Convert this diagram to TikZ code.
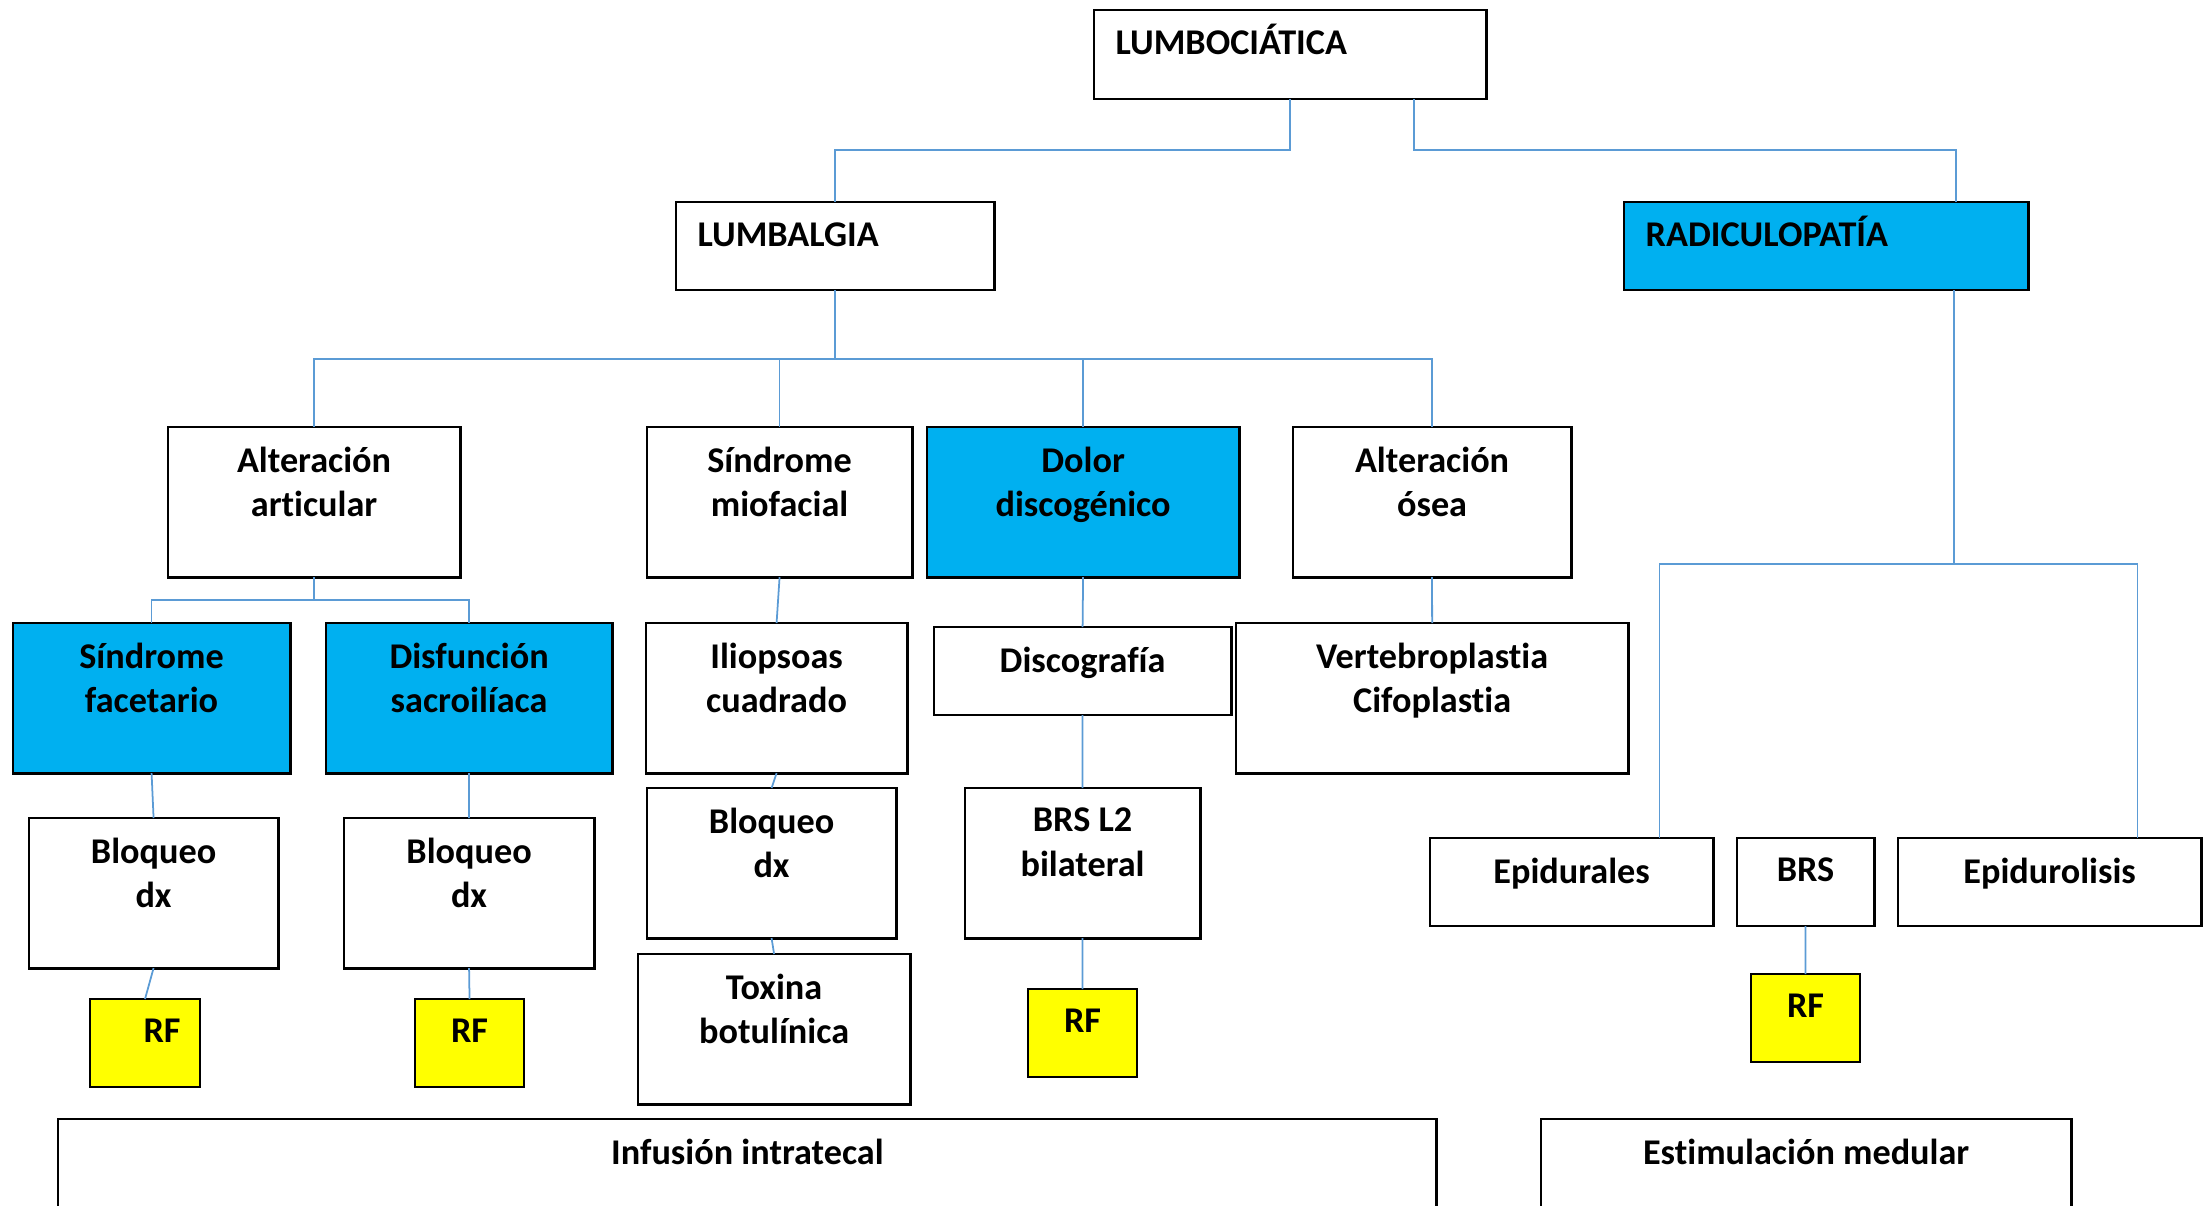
\documentclass[tikz,border=0pt]{standalone}
\usepackage{fontspec}
\setmainfont{Carlito}[Ligatures=NoCommon]
\usetikzlibrary{calc}
\definecolor{celeste}{HTML}{00B0F0}
\definecolor{amarillo}{HTML}{FFFF00}
\definecolor{azulenlace}{HTML}{5B9BD5}
\tikzset{
  caja/.style={draw, line width=0.8pt, inner sep=0pt, outer sep=0pt, anchor=north west},
  txt/.style={font=\bfseries\fontsize{10.3}{12.7}\selectfont, align=center, inner sep=0pt, anchor=north, yshift=-0.19cm},
  txtizq/.style={txt, anchor=north west, xshift=0.21cm, text height=0.233cm, yshift=-0.01cm},
  enlace/.style={draw=azulenlace, line width=0.5pt}
}
\begin{document}
\begin{tikzpicture}[x=0.01cm, y=-0.01cm]
\useasboundingbox (0,0) rectangle (2203,1205);
\clip (0,0) rectangle (2203,1205);

% niveles superiores
\node[caja, minimum width=3.92cm, minimum height=0.89cm, label={[txtizq]north west:LUMBOCIÁTICA}] (lumbo) at (1094,10) {};
\node[caja, minimum width=3.18cm, minimum height=0.88cm, label={[txtizq]north west:LUMBALGIA}] (lumbal) at (676,202) {};
\node[caja, fill=celeste, minimum width=4.04cm, minimum height=0.88cm, label={[txtizq]north west:RADICULOPATÍA}] (radic) at (1624,202) {};

\node[caja, minimum width=2.92cm, minimum height=1.5cm, label={[txt]north:{Alteración\\articular}}] (altart) at (168,427) {};
\node[caja, minimum width=2.65cm, minimum height=1.5cm, label={[txt]north:{Síndrome\\miofacial}}] (sinmio) at (647,427) {};
\node[caja, fill=celeste, minimum width=3.12cm, minimum height=1.5cm, label={[txt]north:{Dolor\\discogénico}}] (dolor) at (927,427) {};
\node[caja, minimum width=2.78cm, minimum height=1.5cm, label={[txt]north:{Alteración\\ósea}}] (altos) at (1293,427) {};

\node[caja, fill=celeste, minimum width=2.77cm, minimum height=1.5cm, label={[txt]north:{Síndrome\\facetario}}] (sinfac) at (13,623) {};
\node[caja, fill=celeste, minimum width=2.86cm, minimum height=1.5cm, label={[txt]north:{Disfunción\\sacroilíaca}}] (disfun) at (326,623) {};
\node[caja, minimum width=2.61cm, minimum height=1.5cm, label={[txt]north:{Iliopsoas\\cuadrado}}] (ilio) at (646,623) {};
\node[caja, minimum width=2.97cm, minimum height=0.88cm, label={[txt]north:Discografía}] (discog) at (934,627) {};
\node[caja, minimum width=3.92cm, minimum height=1.5cm, label={[txt]north:{Vertebroplastia\\Cifoplastia}}] (vert) at (1236,623) {};

\node[caja, minimum width=2.49cm, minimum height=1.5cm, label={[txt]north:{Bloqueo\\dx}}] (bloq1) at (29,818) {};
\node[caja, minimum width=2.50cm, minimum height=1.5cm, label={[txt]north:{Bloqueo\\dx}}] (bloq2) at (344,818) {};
\node[caja, minimum width=2.49cm, minimum height=1.5cm, label={[txt]north:{Bloqueo\\dx}}] (bloq3) at (647,788) {};
\node[caja, minimum width=2.72cm, minimum height=1.5cm, label={[txt]north:{Toxina\\botulínica}}] (toxina) at (638,954) {};
\node[caja, minimum width=2.35cm, minimum height=1.5cm, label={[txt]north:{BRS L2\\bilateral}}] (brsl2) at (965,788) {};

\node[caja, minimum width=2.83cm, minimum height=0.88cm, label={[txt]north:Epidurales}] (epidur) at (1430,838) {};
\node[caja, minimum width=1.37cm, minimum height=0.88cm, label={[txt]north:BRS}] (brs) at (1737,838) {};
\node[caja, minimum width=3.03cm, minimum height=0.88cm, label={[txt]north:Epidurolisis}] (epilis) at (1898,838) {};

% radiofrecuencia
\node[caja, fill=amarillo, minimum width=1.10cm, minimum height=0.88cm, label={[txt, xshift=0.17cm]north:RF}] (rf1) at (90,999) {};
\node[caja, fill=amarillo, minimum width=1.09cm, minimum height=0.88cm, label={[txt]north:RF}] (rf2) at (415,999) {};
\node[caja, fill=amarillo, minimum width=1.09cm, minimum height=0.88cm, label={[txt]north:RF}] (rf3) at (1028,989) {};
\node[caja, fill=amarillo, minimum width=1.09cm, minimum height=0.88cm, label={[txt]north:RF}] (rf4) at (1751,974) {};

\node[caja, minimum width=13.78cm, minimum height=1.5cm, label={[txt]north:Infusión intratecal}] (infus) at (58,1119) {};
\node[caja, minimum width=5.30cm, minimum height=1.5cm, label={[txt]north:Estimulación medular}] (estim) at (1541,1119) {};

% conectores
\draw[enlace] (lumbo.south) -- ++(0,51) -| (lumbal.north);
\draw[enlace] ($(lumbo.south west)!.816!(lumbo.south east)$) -- ++(0,51) -| ($(radic.north west)!.822!(radic.north east)$);
\foreach \n in {altart,sinmio,dolor,altos}{
\draw[enlace] (lumbal.south) -- ++(0,69) -| (\n.north);
}
\foreach \n in {sinfac,disfun}{
\draw[enlace] (altart.south) -- ++(0,23) -| (\n.north);
}
\draw[enlace] ($(radic.south west)!.817!(radic.south east)$) -- ++(0,274) coordinate (rb);
\draw[enlace] ($(epidur.north west)!.81!(epidur.north east)$) |- (rb) -| ($(epilis.north west)!.79!(epilis.north east)$);
\foreach \a/\b in {sinfac/bloq1,bloq1/rf1,disfun/bloq2,bloq2/rf2,sinmio/ilio,ilio/bloq3,bloq3/toxina,dolor/discog,discog/brsl2,brsl2/rf3,altos/vert,brs/rf4}{
\draw[enlace] (\a.south) -- (\b.north);
}
\end{tikzpicture}
\end{document}
